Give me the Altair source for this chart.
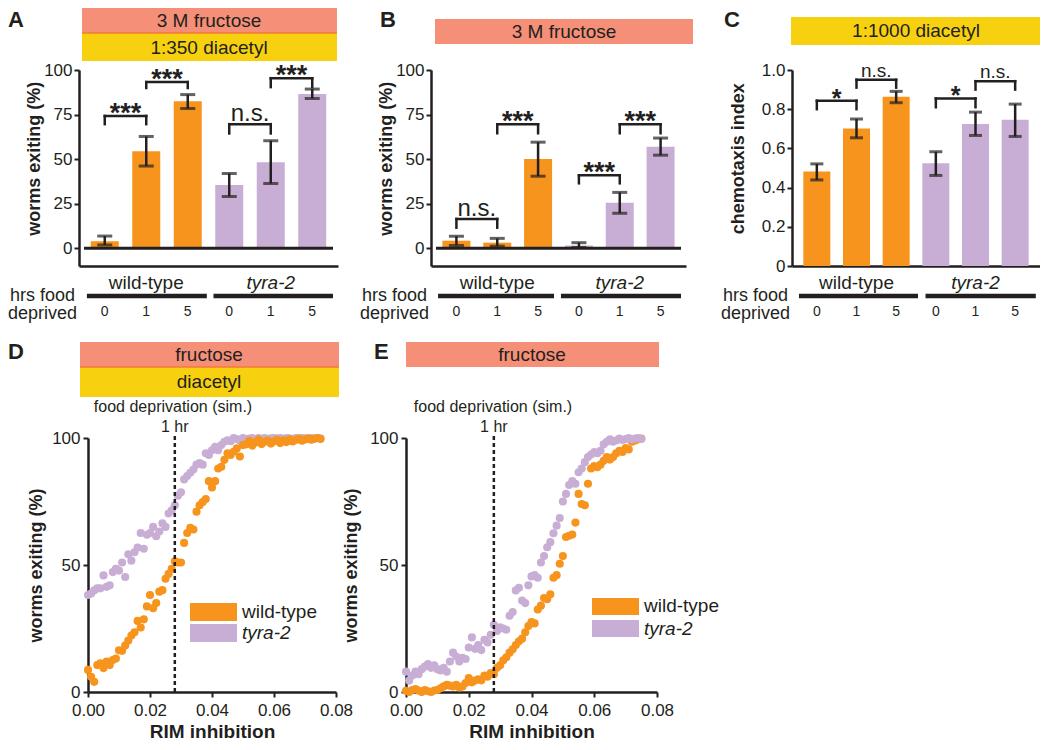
import altair as alt
import pandas as pd

FONT = "Liberation Sans"
INK = "#231F20"
ORANGE = "#F7941D"
PURPLE = "#C8AED5"
SALMON = "#F58F78"
YELLOW = "#F7D10F"
SEP = "#F47A3A"

GENOTYPES = ["wild-type", "tyra-2"]
BAR_POS = [0, 1, 2, 3, 4, 5]
BAR_GENO = ["wild-type", "wild-type", "wild-type", "tyra-2", "tyra-2", "tyra-2"]
BAR_HRS = ["0", "1", "5", "0", "1", "5"]

# Panel A: 3 M fructose + 1:350 diacetyl
A_MEAN = [3.9, 54.4, 82.5, 35.4, 48.2, 86.5]
A_LO = [1.8, 46.1, 78.4, 29.0, 36.3, 84.0]
A_HI = [6.8, 62.7, 86.2, 41.9, 60.3, 89.3]
A_BR_FROM = [0, 1, 3, 4]
A_BR_TO = [1, 2, 4, 5]
A_BR_TOP = [74.2, 93.2, 69.6, 95.4]
A_BR_LEG = [69.6, 89.9, 64.4, 90.4]
A_BR_SIG = ["***", "***", "n.s.", "***"]

# Panel B: 3 M fructose
B_MEAN = [4.2, 3.1, 50.0, 1.5, 25.5, 56.9]
B_LO = [1.5, 1.1, 40.4, 0.4, 19.6, 52.2]
B_HI = [6.7, 5.5, 59.5, 3.1, 31.3, 61.8]
B_BR_FROM = [0, 1, 3, 4]
B_BR_TO = [1, 2, 4, 5]
B_BR_TOP = [16.4, 69.5, 40.9, 69.5]
B_BR_LEG = [11.5, 64.5, 36.4, 64.5]
B_BR_SIG = ["n.s.", "***", "***", "***"]

# Panel C: 1:1000 diacetyl chemotaxis
C_MEAN = [0.482, 0.701, 0.863, 0.524, 0.725, 0.746]
C_LO = [0.439, 0.654, 0.833, 0.462, 0.666, 0.661]
C_HI = [0.521, 0.750, 0.891, 0.583, 0.785, 0.826]
C_BR_FROM = [0, 1, 3, 4]
C_BR_TO = [1, 2, 4, 5]
C_BR_TOP = [0.843, 0.950, 0.855, 0.943]
C_BR_LEG = [0.800, 0.910, 0.810, 0.900]
C_BR_SIG = ["*", "n.s.", "*", "n.s."]

# Panels D/E: simulation
RIM = [0.000, 0.001, 0.002, 0.003, 0.004, 0.005, 0.006, 0.007, 0.008, 0.009,
       0.010, 0.011, 0.012, 0.013, 0.014, 0.015, 0.016, 0.017, 0.018, 0.019,
       0.020, 0.021, 0.022, 0.023, 0.024, 0.025, 0.026, 0.027, 0.028, 0.029,
       0.030, 0.031, 0.032, 0.033, 0.034, 0.035, 0.036, 0.037, 0.038, 0.039,
       0.040, 0.041, 0.042, 0.043, 0.044, 0.045, 0.046, 0.047, 0.048, 0.049,
       0.050, 0.051, 0.052, 0.053, 0.054, 0.055, 0.056, 0.057, 0.058, 0.059,
       0.060, 0.061, 0.062, 0.063, 0.064, 0.065, 0.066, 0.067, 0.068, 0.069,
       0.070, 0.071, 0.072, 0.073, 0.074, 0.075]
HR_MARK = [0.028]

D_WT = [8.7, 6.0, 4.0, 10.6, 11.3, 9.4, 12.0, 10.6, 12.6, 13.2,
        16.4, 16.2, 18.3, 20.3, 22.2, 23.5, 28.0, 25.4, 28.6, 33.7,
        38.2, 33.0, 35.0, 39.5, 40.1, 44.6, 46.5, 48.5, 51.5, 51.0,
        51.0, 58.7, 62.6, 64.6, 64.0, 71.0, 73.5, 74.8, 76.0, 83.0,
        80.5, 83.0, 88.0, 88.7, 91.4, 94.0, 93.3, 94.6, 95.9, 92.7,
        97.2, 97.5, 98.9, 97.0, 98.2, 99.4, 97.6, 98.5, 99.0, 97.8,
        98.7, 99.3, 98.0, 99.1, 98.4, 99.5, 98.6, 99.2, 99.8, 98.9,
        99.4, 99.9, 99.3, 99.7, 100.0, 99.6]
D_TY = [38.2, 38.8, 40.0, 40.8, 40.8, 45.9, 41.4, 42.0, 47.2, 48.5,
        47.8, 51.0, 45.3, 54.2, 51.7, 55.0, 56.9, 62.6, 56.4, 61.9,
        62.6, 65.0, 61.3, 63.2, 66.4, 65.0, 70.3, 71.5, 73.5, 77.3,
        78.6, 83.7, 85.0, 86.3, 87.6, 89.5, 90.1, 89.5, 94.0, 93.3,
        95.2, 96.5, 95.2, 97.2, 98.5, 99.1, 98.7, 100.0, 99.6, 99.0,
        100.0, 99.4, 99.8, 100.0, 99.5, 100.0, 99.7, 100.0, 99.6, 99.9,
        100.0, 99.8, 100.0, 99.7, 100.0, 99.9, 99.6, 100.0, 99.8, 100.0,
        99.9, 99.7, 100.0, 99.8, 100.0, 99.9]
E_WT = [0.5, 0.0, 0.8, 1.2, 0.6, 0.0, 0.8, 0.3, 0.0, 0.6,
        0.8, 1.5, 2.2, 2.8, 2.5, 2.2, 2.8, 1.8, 2.2, 3.5,
        5.5, 3.8, 4.5, 5.0, 4.6, 6.5, 6.0, 7.5, 7.0, 9.5,
        10.5, 12.5, 13.7, 15.5, 16.8, 18.5, 20.0, 21.0, 23.5, 26.0,
        27.5, 27.0, 32.5, 34.0, 37.0, 36.5, 38.5, 45.0, 46.0, 50.5,
        53.5, 61.0, 61.5, 62.0, 66.7, 78.0, 74.0, 73.5, 82.0, 88.0,
        89.0, 88.5, 89.5, 91.0, 92.5, 91.5, 92.5, 94.0, 95.0, 94.5,
        96.0, 95.5, 98.5, 99.0, 99.5, 99.8]
E_TY = [8.0, 4.5, 6.5, 8.0, 7.0, 9.0, 10.0, 11.0, 9.5, 10.5,
        9.0, 8.5, 9.5, 8.0, 12.0, 15.5, 14.0, 12.0, 13.5, 13.0,
        17.5, 21.5, 17.0, 18.5, 16.5, 20.5, 19.5, 22.5, 26.5, 24.0,
        25.5, 25.0, 24.5, 30.0, 31.5, 40.0, 41.0, 36.0, 35.0, 42.0,
        45.5, 46.0, 45.0, 51.0, 53.5, 57.0, 59.0, 62.5, 65.5, 68.5,
        75.0, 78.0, 81.5, 83.0, 82.0, 86.5, 88.0, 90.5, 92.5, 93.5,
        94.5, 94.0, 95.0, 97.5, 98.5, 99.5, 98.5, 99.0, 99.8, 99.2,
        99.6, 100.0, 99.4, 99.8, 100.0, 99.6]

ONE = pd.DataFrame({"k": [0]})

AXS = dict(domainColor=INK, domainWidth=2.5, tickColor=INK, tickWidth=2, tickSize=5,
           labelColor=INK, labelFont=FONT, labelFontSize=17, titleFont=FONT, titleColor=INK,
           grid=False, labelFlush=False, labelOverlap=False)


def txt(s, x, y, size, **kw):
    kw.setdefault("align", "center")
    kw.setdefault("baseline", "middle")
    return alt.Chart(ONE).mark_text(text=s, fontSize=size, font=FONT, color=INK, **kw).encode(
        x=alt.value(x), y=alt.value(y))


def box(x1, x2, y1, y2, color):
    return alt.Chart(ONE).mark_rect(color=color).encode(
        x=alt.value(x1), x2=alt.value(x2), y=alt.value(y1), y2=alt.value(y2))


def hline(x1, x2, y, color, w):
    return alt.Chart(ONE).mark_rule(color=color, strokeWidth=w).encode(
        x=alt.value(x1), x2=alt.value(x2), y=alt.value(y))


def bar_panel(mean, lo, hi, br, ydom, yvals, ytitle, tpad, dx, pw, height, deco,
              wt_line, ty_line, zero_line, bar_w, cap_w, star_size, ns_size, label_expr=None):
    d = pd.DataFrame({"pos": BAR_POS, "mean": mean, "lo": lo, "hi": hi,
                      "geno": BAR_GENO, "hrs": BAR_HRS})
    b = pd.DataFrame({"x1": br[0], "x2": br[1], "top": br[2], "leg": br[3], "sig": br[4]})
    b["xm"] = (b["x1"] + b["x2"]) / 2
    g = pd.DataFrame({"xm": [1, 4], "name": GENOTYPES,
                      "a": [wt_line[0], ty_line[0]], "b": [wt_line[1], ty_line[1]]})
    xsc = alt.Scale(domain=[-0.5, 5.5], range=[dx, dx + pw], nice=False, zero=False)
    ysc = alt.Scale(domain=ydom, nice=False, zero=False)
    xax = alt.Axis(labels=False, ticks=False, title=None, **AXS)
    yk = dict(values=yvals, title=ytitle, titlePadding=tpad, titleFontSize=18,
              titleFontWeight="bold", labelPadding=2, titleY=height * 0.45, offset=-dx, **AXS)
    if label_expr:
        yk["labelExpr"] = label_expr
    yax = alt.Axis(**yk)

    def X(f):
        return alt.X(f, type="quantitative", scale=xsc, axis=xax)

    def Y(f):
        return alt.Y(f, type="quantitative", scale=ysc, axis=yax)

    col = alt.Color("geno:N", scale=alt.Scale(domain=GENOTYPES, range=[ORANGE, PURPLE]), legend=None)
    layers = list(deco)
    layers.append(alt.Chart(d).mark_bar(size=bar_w, orient="vertical").encode(
        x=X("pos"), y=Y("mean"), y2=alt.Y2Datum(0), color=col))
    if zero_line:
        layers.append(alt.Chart(ONE).mark_rule(color=INK, strokeWidth=3).encode(
            x=alt.XDatum(-0.5, type="quantitative", scale=xsc, axis=xax),
            x2=alt.X2Datum(5.5),
            y=alt.YDatum(0, type="quantitative", scale=ysc, axis=yax)))
    layers.append(alt.Chart(d).mark_rule(color=INK, strokeWidth=2.5).encode(
        x=X("pos"), y=Y("lo"), y2="hi"))
    for f in ["lo", "hi"]:
        layers.append(alt.Chart(d).mark_tick(color=INK, orient="horizontal", size=cap_w, thickness=3).encode(
            x=X("pos"), y=Y(f)))
    layers.append(alt.Chart(b).mark_rule(color=INK, strokeWidth=2.5, strokeCap="square").encode(
        x=X("x1"), x2="x2", y=Y("top")))
    for f in ["x1", "x2"]:
        layers.append(alt.Chart(b).mark_rule(color=INK, strokeWidth=2.5, strokeCap="square").encode(
            x=X(f), y=Y("leg"), y2="top"))
    layers.append(alt.Chart(b).transform_filter("datum.sig != 'n.s.'").mark_text(
        fontSize=star_size, fontWeight="bold", baseline="alphabetic", dy=6, font=FONT, color=INK).encode(
        x=X("xm"), y=Y("top"), text="sig:N"))
    layers.append(alt.Chart(b).transform_filter("datum.sig == 'n.s.'").mark_text(
        fontSize=ns_size, baseline="alphabetic", dy=-3, font=FONT, color=INK).encode(
        x=X("xm"), y=Y("top"), text="sig:N"))
    layers.append(alt.Chart(g).transform_filter("datum.name == 'wild-type'").mark_text(
        fontSize=19, baseline="alphabetic", font=FONT, color=INK).encode(
        x=X("xm"), y=alt.value(height + 23), text="name:N"))
    layers.append(alt.Chart(g).transform_filter("datum.name == 'tyra-2'").mark_text(
        fontSize=19, baseline="alphabetic", fontStyle="italic", font=FONT, color=INK).encode(
        x=X("xm"), y=alt.value(height + 23), text="name:N"))
    layers.append(alt.Chart(g).mark_rule(color=INK, strokeWidth=4.5).encode(
        x=X("a"), x2="b", y=alt.value(height + 30)))
    layers.append(alt.Chart(d).mark_text(fontSize=14, baseline="alphabetic", font=FONT, color=INK).encode(
        x=X("pos"), y=alt.value(height + 50), text="hrs:N"))
    layers.append(txt("hrs food", dx - 69, height + 35, 18, align="left", baseline="alphabetic"))
    layers.append(txt("deprived", dx - 71, height + 53, 18, align="left", baseline="alphabetic"))
    return alt.layer(*layers).properties(width=dx + pw, height=height)


def scatter_panel(wt, ty, wt_on_top, dx, pw, height, deco, tpad):
    xsc = alt.Scale(domain=[0, 0.08], range=[dx, dx + pw], nice=False, zero=False)
    ysc = alt.Scale(domain=[0, 100], nice=False, zero=False)
    xax = alt.Axis(values=[0, 0.02, 0.04, 0.06, 0.08], format=".2f", title="RIM inhibition",
                   titleFontSize=19, titleFontWeight="bold", titlePadding=4, labelPadding=5, **AXS)
    yax = alt.Axis(values=[0, 50, 100], title="worms exiting (%)", titleFontSize=18,
                   titleFontWeight="bold", titlePadding=tpad, labelPadding=3, offset=-dx, **AXS)

    def X(f):
        return alt.X(f, type="quantitative", scale=xsc, axis=xax)

    def Y(f):
        return alt.Y(f, type="quantitative", scale=ysc, axis=yax)

    dwt = pd.DataFrame({"rim": RIM, "pct": wt})
    dty = pd.DataFrame({"rim": RIM, "pct": ty})
    pw_ = alt.Chart(dwt).mark_circle(size=66, opacity=1, color=ORANGE).encode(x=X("rim"), y=Y("pct"))
    pt_ = alt.Chart(dty).mark_circle(size=66, opacity=1, color=PURPLE).encode(x=X("rim"), y=Y("pct"))
    hr = pd.DataFrame({"rim": HR_MARK, "lo": [0], "hi": [101]})
    dash = alt.Chart(hr).mark_rule(color=INK, strokeWidth=2.5, strokeDash=[4, 3]).encode(
        x=X("rim"), y=Y("lo"), y2="hi")
    hrlab = alt.Chart(hr).mark_text(text="1 hr", fontSize=16, font=FONT, color=INK, baseline="middle").encode(
        x=X("rim"), y=alt.value(-11))
    pts = [pt_, pw_] if wt_on_top else [pw_, pt_]
    layers = list(deco) + pts + [dash, hrlab]
    return alt.layer(*layers).properties(width=dx + pw, height=height)


TOP_H = 196
BOT_H = 254
LET_Y = -43

# ---- A ----  (plot starts at cell origin)
A = bar_panel(
    A_MEAN, A_LO, A_HI, [A_BR_FROM, A_BR_TO, A_BR_TOP, A_BR_LEG, A_BR_SIG],
    [-10, 100], [0, 25, 50, 75, 100], "worms exiting (%)", 0, 0, 259, TOP_H,
    [box(3, 258, -62, -37, SALMON), box(3, 258, -37, -9, YELLOW), hline(3, 258, -37, SEP, 1.5),
     txt("3 M fructose", 130, -49, 19), txt("1:350 diacetyl", 130, -22, 19),
     txt("A", -71, LET_Y, 22, align="left", baseline="alphabetic", fontWeight="bold")],
    (-0.43, 2.46), (2.62, 5.5), True, 28, 15, 27, 24)

# ---- B ----
B = bar_panel(
    B_MEAN, B_LO, B_HI, [B_BR_FROM, B_BR_TO, B_BR_TOP, B_BR_LEG, B_BR_SIG],
    [-10, 100], [0, 25, 50, 75, 100], "worms exiting (%)", 0, 0, 255, TOP_H,
    [box(4, 262, -51, -26, SALMON), txt("3 M fructose", 133, -38, 19),
     txt("B", -51, LET_Y, 22, align="left", baseline="alphabetic", fontWeight="bold")],
    (-0.45, 2.39), (2.56, 5.5), True, 28, 15, 27, 24)

# ---- C ----  (plot starts 13 px into its cell)
CX = 13
C = bar_panel(
    C_MEAN, C_LO, C_HI, [C_BR_FROM, C_BR_TO, C_BR_TOP, C_BR_LEG, C_BR_SIG],
    [0, 1], [0, 0.2, 0.4, 0.6, 0.8, 1.0], "chemotaxis index", 14, CX, 248, TOP_H,
    [box(CX - 1, CX + 248, -53, -25, YELLOW), txt("1:1000 diacetyl", CX + 124, -39, 19),
     txt("C", CX - 68, LET_Y, 22, align="left", baseline="alphabetic", fontWeight="bold")],
    (-0.45, 2.55), (2.74, 5.52), False, 27, 13, 25, 19,
    label_expr="datum.value == 0 ? '0' : format(datum.value, '.1f')")

# ---- D ----  (plot starts 9 px into its cell)
DX = 9
D = scatter_panel(
    D_WT, D_TY, True, DX, 248, BOT_H,
    [box(DX - 8, DX + 251, -96, -71, SALMON), box(DX - 8, DX + 251, -71, -41, YELLOW),
     hline(DX - 8, DX + 251, -71, SEP, 1.5),
     txt("fructose", DX + 121, -83, 19), txt("diacetyl", DX + 121, -56, 19),
     txt("food deprivation (sim.)", DX + 85, -31, 16),
     txt("D", -71, -79, 22, align="left", baseline="alphabetic", fontWeight="bold"),
     box(DX + 102, DX + 149, 165, 183, ORANGE), box(DX + 102, DX + 149, 186, 204, PURPLE),
     txt("wild-type", DX + 154, 174, 19, align="left"),
     txt("tyra-2", DX + 154, 195, 19, align="left", fontStyle="italic")],
    6)

# ---- E ----
E = scatter_panel(
    E_WT, E_TY, False, 0, 251, BOT_H,
    [box(0, 253, -96, -71, SALMON), txt("fructose", 126, -83, 19),
     txt("food deprivation (sim.)", 87, -31, 16),
     txt("E", -32, -79, 22, align="left", baseline="alphabetic", fontWeight="bold"),
     box(186, 233, 160, 177, ORANGE), box(186, 233, 182, 199, PURPLE),
     txt("wild-type", 238, 168, 19, align="left"),
     txt("tyra-2", 238, 191, 19, align="left", fontStyle="italic")],
    9)

top = alt.hconcat(A, B, C, spacing=93, bounds="flush")
bottom = alt.hconcat(D, E, spacing=70, bounds="flush")
chart = alt.vconcat(top, bottom, spacing=18).properties(
    padding=0, background="white").configure_view(stroke=None)

chart.save("out.html", embed_options={"renderer": "svg", "actions": False})
